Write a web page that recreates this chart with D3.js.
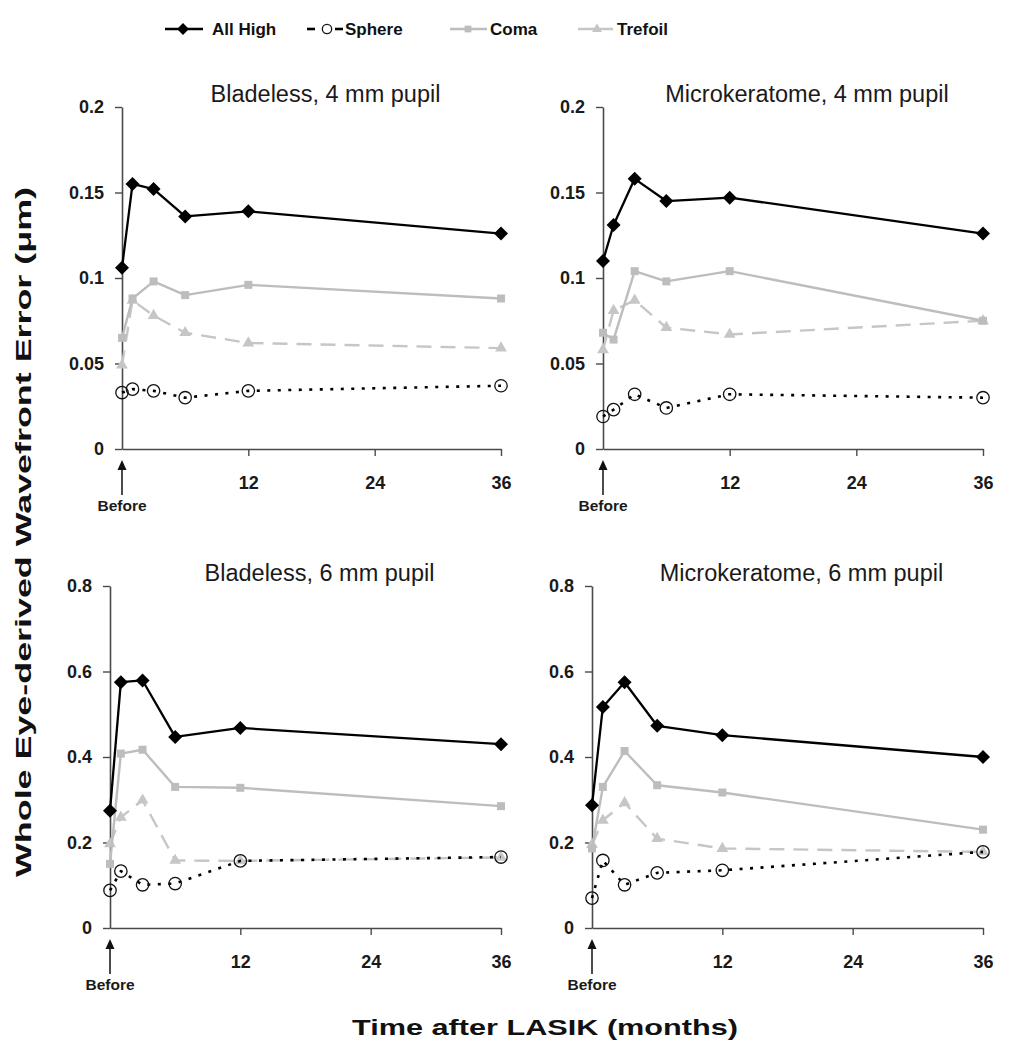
<!DOCTYPE html>
<html><head><meta charset="utf-8">
<script src="https://cdn.jsdelivr.net/npm/d3@7"></script>
<style>
body{margin:0;background:#fff}
svg{display:block}
text{font-family:"Liberation Sans",Arial,Helvetica,sans-serif}
</style>
</head><body>
<svg id="chart" width="1018" height="1050"></svg>
<script>
// ---------- data ----------
const months = [0, 1, 3, 6, 12, 36];
const xTickValues = [12, 24, 36];
const seriesNames = ["All High", "Sphere", "Coma", "Trefoil"];
const panelTitles = ["Bladeless, 4 mm pupil", "Microkeratome, 4 mm pupil", "Bladeless, 6 mm pupil", "Microkeratome, 6 mm pupil"];
const yTicks4 = [0, 0.05, 0.1, 0.15, 0.2];
const yTickLabels4 = ["0", "0.05", "0.1", "0.15", "0.2"];
const yTicks6 = [0, 0.2, 0.4, 0.6, 0.8];
const yTickLabels6 = ["0", "0.2", "0.4", "0.6", "0.8"];

const allHighB4 = [0.106, 0.155, 0.152, 0.136, 0.139, 0.126];
const sphereB4  = [0.033, 0.035, 0.034, 0.030, 0.034, 0.037];
const comaB4    = [0.065, 0.088, 0.098, 0.090, 0.096, 0.088];
const trefoilB4 = [0.049, 0.087, 0.078, 0.068, 0.062, 0.059];

const allHighM4 = [0.110, 0.131, 0.158, 0.145, 0.147, 0.126];
const sphereM4  = [0.019, 0.023, 0.032, 0.024, 0.032, 0.030];
const comaM4    = [0.068, 0.064, 0.104, 0.098, 0.104, 0.075];
const trefoilM4 = [0.058, 0.081, 0.087, 0.071, 0.067, 0.075];

const allHighB6 = [0.274, 0.575, 0.579, 0.447, 0.468, 0.430];
const sphereB6  = [0.088, 0.133, 0.101, 0.104, 0.157, 0.166];
const comaB6    = [0.150, 0.408, 0.417, 0.330, 0.328, 0.285];
const trefoilB6 = [0.197, 0.259, 0.299, 0.158, 0.157, 0.165];

const allHighM6 = [0.287, 0.517, 0.575, 0.473, 0.451, 0.400];
const sphereM6  = [0.070, 0.158, 0.101, 0.129, 0.135, 0.178];
const comaM6    = [0.186, 0.330, 0.414, 0.334, 0.317, 0.230];
const trefoilM6 = [0.195, 0.252, 0.293, 0.209, 0.186, 0.178];

const yTitle = "Whole Eye-derived Wavefront Error (\u03bcm)";
const xTitle = "Time after LASIK (months)";
const beforeLabel = "Before";

// ---------- styles ----------
const styles = {
  "All High": {color: "#000", width: 2.3, dash: null, marker: "diamond"},
  "Sphere":   {color: "#000", width: 2.6, dash: "3,7.5", marker: "circle"},
  "Coma":     {color: "#bdbdbd", width: 2.4, dash: null, marker: "square"},
  "Trefoil":  {color: "#c6c6c6", width: 2.4, dash: "15,9", marker: "triangle"}
};
const axisColor = "#4a4a4a";

const panels = [
  {title: panelTitles[0], x0: 122, x1: 501, yBottom: 449, yTop: 107, yMax: 0.2, ticks: yTicks4, labels: yTickLabels4,
   series: {"All High": allHighB4, "Sphere": sphereB4, "Coma": comaB4, "Trefoil": trefoilB4}},
  {title: panelTitles[1], x0: 603, x1: 983, yBottom: 449, yTop: 107, yMax: 0.2, ticks: yTicks4, labels: yTickLabels4,
   series: {"All High": allHighM4, "Sphere": sphereM4, "Coma": comaM4, "Trefoil": trefoilM4}},
  {title: panelTitles[2], x0: 110, x1: 501, yBottom: 928, yTop: 586, yMax: 0.8, ticks: yTicks6, labels: yTickLabels6,
   series: {"All High": allHighB6, "Sphere": sphereB6, "Coma": comaB6, "Trefoil": trefoilB6}},
  {title: panelTitles[3], x0: 592, x1: 983, yBottom: 928, yTop: 586, yMax: 0.8, ticks: yTicks6, labels: yTickLabels6,
   series: {"All High": allHighM6, "Sphere": sphereM6, "Coma": comaM6, "Trefoil": trefoilM6}}
];

const svg = d3.select("#chart");

function drawMarker(g, type, x, y, color, scale) {
  scale = scale || 1;
  if (type === "circle") {
    g.append("circle").attr("cx", x).attr("cy", y).attr("r", 6.2 * scale)
      .attr("fill", "none").attr("stroke", "#111").attr("stroke-width", 1.3);
  } else if (type === "diamond") {
    const h = 7 * scale;
    g.append("path").attr("d", `M0,${-h}L${h},0L0,${h}L${-h},0Z`)
      .attr("transform", `translate(${x},${y})`).attr("fill", color);
  } else {
    const sym = type === "square" ? d3.symbolSquare : d3.symbolTriangle;
    const size = type === "square" ? 64 : 60;
    g.append("path").attr("d", d3.symbol().type(sym).size(size * scale * scale)())
      .attr("transform", `translate(${x},${y})`).attr("fill", color);
  }
}

const drawOrder = ["Trefoil", "Coma", "Sphere", "All High"];

panels.forEach(p => {
  const x = d3.scaleLinear().domain([0, 36]).range([p.x0, p.x1]);
  const y = d3.scaleLinear().domain([0, p.yMax]).range([p.yBottom, p.yTop]);
  const g = svg.append("g");

  const ya = g.append("g").attr("transform", `translate(${p.x0},0)`)
    .call(d3.axisLeft(y).tickValues(p.ticks).tickFormat((d, i) => p.labels[i]).tickSize(7).tickSizeOuter(0).tickPadding(11));
  const xa = g.append("g").attr("transform", `translate(0,${p.yBottom})`)
    .call(d3.axisBottom(x).tickValues(xTickValues).tickSize(7).tickSizeOuter(0).tickPadding(20));
  [ya, xa].forEach(a => {
    a.select(".domain").attr("stroke", axisColor).attr("stroke-width", 1.6);
    a.selectAll(".tick line").attr("stroke", axisColor).attr("stroke-width", 1.4);
    a.selectAll(".tick text").attr("fill", "#1a1a1a").style("font-size", "18px").style("font-weight", "bold");
  });

  g.append("text").attr("x", (p.x0 + p.x1) / 2 + 14).attr("y", p.yTop - 5)
    .attr("text-anchor", "middle").style("font-size", "23.5px").attr("fill", "#1a1a1a").text(p.title);

  const bx = x(0);
  g.append("line").attr("x1", bx).attr("x2", bx).attr("y1", p.yBottom + 18).attr("y2", p.yBottom + 46)
    .attr("stroke", "#111").attr("stroke-width", 1.5);
  g.append("path").attr("d", `M${bx},${p.yBottom + 11} L${bx - 4.5},${p.yBottom + 21} L${bx + 4.5},${p.yBottom + 21} Z`).attr("fill", "#111");
  g.append("text").attr("x", bx).attr("y", p.yBottom + 62).attr("text-anchor", "middle")
    .style("font-size", "15.5px").style("font-weight", "bold").attr("fill", "#1a1a1a").text(beforeLabel);

  drawOrder.forEach(name => {
    const st = styles[name];
    const vals = p.series[name];
    const pts = months.map((m, i) => [x(m), y(vals[i])]);
    g.append("path").attr("d", d3.line()(pts)).attr("fill", "none")
      .attr("stroke", st.color).attr("stroke-width", st.width)
      .attr("stroke-dasharray", st.dash).attr("stroke-linejoin", "round");
    pts.forEach(pt => drawMarker(g, st.marker, pt[0], pt[1], st.color));
  });
});

// legend
const legendItems = [
  {name: seriesNames[0], lx0: 165, lx1: 203, mx: 183, tx: 212},
  {name: seriesNames[1], lx0: 307, lx1: 343, mx: 327, tx: 345},
  {name: seriesNames[2], lx0: 450, lx1: 487, mx: 468, tx: 490},
  {name: seriesNames[3], lx0: 578, lx1: 613, mx: 597, tx: 617}
];
const lg = svg.append("g");
const ly = 29;
legendItems.forEach(it => {
  const st = styles[it.name];
  if (it.name === "Sphere") {
    lg.append("line").attr("x1", it.lx0).attr("x2", it.lx0 + 8).attr("y1", ly).attr("y2", ly).attr("stroke", "#000").attr("stroke-width", 2.6);
    lg.append("line").attr("x1", it.lx1 - 8).attr("x2", it.lx1).attr("y1", ly).attr("y2", ly).attr("stroke", "#000").attr("stroke-width", 2.6);
  } else {
    lg.append("line").attr("x1", it.lx0).attr("x2", it.lx1).attr("y1", ly).attr("y2", ly).attr("stroke", st.color).attr("stroke-width", 2.6);
  }
  drawMarker(lg, st.marker, it.mx, ly, st.color, it.name === "Sphere" ? 0.75 : 0.85);
  lg.append("text").attr("x", it.tx).attr("y", ly + 6).style("font-size", "17px").style("font-weight", "bold")
    .attr("fill", "#111").text(it.name);
});

// axis titles
svg.append("text").attr("transform", "translate(31,532) rotate(-90)").attr("text-anchor", "middle")
  .attr("textLength", 690).attr("lengthAdjust", "spacingAndGlyphs")
  .style("font-size", "22.5px").style("font-weight", "bold").attr("fill", "#111").text(yTitle);
svg.append("text").attr("x", 545).attr("y", 1035).attr("text-anchor", "middle")
  .attr("textLength", 386).attr("lengthAdjust", "spacingAndGlyphs")
  .style("font-size", "22.5px").style("font-weight", "bold").attr("fill", "#111").text(xTitle);
</script>
</body></html>
